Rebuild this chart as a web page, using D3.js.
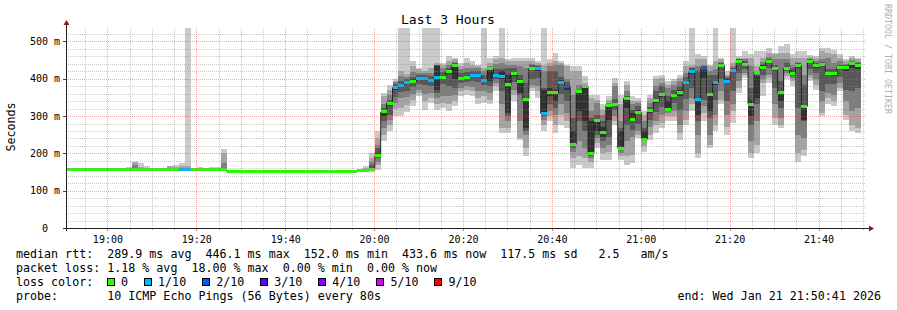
<!DOCTYPE html>
<html>
<head>
<meta charset="utf-8">
<script src="https://cdn.jsdelivr.net/npm/d3@7"></script>
<style>
  body { margin: 0; background: #fff; }
  svg text { white-space: pre; }
</style>
</head>
<body>
<div id="chart"></div>
<script>
// SmokePing style "Last 3 Hours" graph

const startTime = new Date(2026, 0, 21, 18, 50, 41);
const endTime = new Date(2026, 0, 21, 21, 50, 41);
const firstStep = new Date(2026, 0, 21, 18, 50, 49); // first 80 s sample boundary
const stepSec = 80;
const yMax = 536;

// median rtt per 80 s sample (ms)
const medians = [
  157,157,157,157,157,157,157,157,157,157,
  157,157,157,157,157,157,157,157,157,157,
  157,157,157,157,157,157,157,152,152,152,
  152,152,152,152,152,152,152,152,152,152,
  152,152,152,152,152,152,152,152,152,153,
  154,158,193,311,335,376,382,390,393,400,
  401,396,403,404,420,436,402,404,409,409,
  396,427,409,407,384,413,393,345,428,427,
  307,362,362,391,379,225,365,380,201,288,
  257,328,332,214,347,292,310,238,314,341,
  357,317,355,364,390,419,345,427,357,389,
  436,393,422,447,438,331,418,431,447,427,
  362,427,415,435,326,447,435,438,414,413,
  430,429,440,435
];

// lost pings out of 10 per sample
const lossCount = [
  0,0,0,0,0,0,0,0,0,0,
  0,0,0,0,0,0,0,0,0,1,
  1,0,0,0,0,0,0,0,0,0,
  0,0,0,0,0,0,0,0,0,0,
  0,0,0,0,0,0,0,0,0,0,
  0,0,0,0,0,1,1,1,0,1,
  1,1,1,0,0,0,0,0,1,1,
  1,0,1,1,0,0,0,0,0,1,
  1,0,0,1,2,0,0,0,0,0,
  0,0,0,0,0,0,0,0,0,0,
  0,0,0,0,1,1,1,2,0,1,
  0,1,1,0,0,0,0,0,0,0,
  0,0,0,0,0,0,0,0,0,0,
  0,0,0,0
];

// the 10 sorted ping times per sample (ms)
const pings = [
  [156,156,157,157,157,157,157,157,158,158],
  [156,156,157,157,157,157,157,157,158,158],
  [156,156,157,157,157,157,157,157,158,158],
  [156,156,157,157,157,157,157,157,158,158],
  [156,156,157,157,157,157,157,157,158,158],
  [156,156,157,157,157,157,157,157,158,158],
  [156,156,157,157,157,157,157,157,158,158],
  [156,156,157,157,157,157,157,157,158,158],
  [156,156,157,157,157,157,157,157,158,158],
  [156,156,157,157,157,157,157,157,158,158],
  [156,156,157,157,157,157,157,158,160,164],
  [156,156,157,157,157,158,162,170,176,177],
  [156,156,157,157,157,157,158,160,163,175],
  [156,156,157,157,157,157,158,159,161,167],
  [156,156,157,157,157,157,157,157,158,158],
  [156,156,157,157,157,157,157,157,158,158],
  [156,156,157,157,157,157,157,157,158,158],
  [156,157,157,157,157,157,158,160,166,167],
  [156,156,157,157,157,157,158,160,163,170],
  [156,156,157,157,157,157,158,160,165,173],
  [156,156,157,157,157,157,158,160,165,540],
  [156,156,157,157,157,157,157,157,158,158],
  [156,156,157,157,157,157,157,158,160,164],
  [156,156,157,157,157,157,157,157,158,158],
  [156,156,157,157,157,157,157,158,160,164],
  [156,156,157,157,157,157,157,158,160,164],
  [152,153,154,155,156,157,158,174,202,212],
  [151,151,152,152,152,152,152,152,153,153],
  [151,151,152,152,152,152,152,152,153,153],
  [151,151,152,152,152,152,152,152,153,153],
  [151,151,152,152,152,152,152,152,153,153],
  [151,151,152,152,152,152,152,152,153,153],
  [151,151,152,152,152,152,152,152,153,153],
  [151,151,152,152,152,152,152,152,153,153],
  [151,151,152,152,152,152,152,152,153,153],
  [151,151,152,152,152,152,152,152,153,153],
  [151,151,152,152,152,152,152,152,153,153],
  [151,151,152,152,152,152,152,152,153,153],
  [151,151,152,152,152,152,152,152,153,153],
  [151,151,152,152,152,152,152,152,153,153],
  [151,151,152,152,152,152,152,152,153,153],
  [151,151,152,152,152,152,152,152,153,153],
  [151,151,152,152,152,152,152,152,153,153],
  [151,151,152,152,152,152,152,152,153,153],
  [151,151,152,152,152,152,152,152,153,153],
  [151,151,152,152,152,152,152,152,153,153],
  [151,151,152,152,152,152,152,152,153,153],
  [151,151,152,152,152,152,152,152,153,153],
  [151,151,152,152,152,152,152,152,153,153],
  [152,152,153,153,153,153,153,153,154,154],
  [152,153,153,154,154,154,155,157,160,166],
  [150,152,154,155,157,160,168,178,187,200],
  [156,169,178,187,192,201,214,223,241,259],
  [232,250,268,286,299,314,322,331,353,362],
  [259,277,290,304,326,338,344,357,371,384],
  [300,320,335,350,370,380,385,390,395,400],
  [300,322,348,365,378,386,395,407,420,540],
  [310,330,350,368,385,395,400,405,413,540],
  [326,344,360,378,389,398,405,418,434,447],
  [353,362,370,385,396,404,410,416,425,429],
  [317,340,360,382,397,405,410,415,420,540],
  [335,348,362,380,392,400,408,416,429,540],
  [317,331,348,362,371,434,436,438,442,540],
  [322,335,355,385,400,408,418,429,438,443],
  [313,331,353,380,412,424,430,436,447,461],
  [326,340,357,375,400,440,443,446,452,456],
  [353,366,375,388,398,406,415,425,434,443],
  [357,371,380,392,400,408,418,430,443,456],
  [353,366,378,395,405,413,420,429,438,447],
  [331,348,366,390,405,413,420,429,434,438],
  [335,353,366,383,392,400,410,420,429,540],
  [331,344,362,380,393,429,430,434,443,456],
  [366,380,389,398,405,413,425,440,452,461],
  [254,268,331,366,398,420,425,443,456,540],
  [254,268,286,299,308,411,429,438,447,452],
  [340,357,371,390,408,418,428,438,447,456],
  [237,241,286,357,362,398,411,434,447,456],
  [192,214,250,259,268,348,389,429,447,456],
  [366,375,384,400,424,432,436,440,447,456],
  [348,366,380,402,420,430,434,438,443,447],
  [259,277,290,299,308,371,375,420,438,540],
  [286,299,313,331,353,375,420,434,443,452],
  [254,277,304,322,340,371,420,438,447,470],
  [277,304,331,360,386,396,405,438,443,447],
  [268,286,308,340,370,383,390,400,434,438],
  [160,187,205,214,223,259,295,357,420,434],
  [169,192,232,286,313,362,371,384,420,434],
  [160,187,214,259,286,375,380,384,389,407],
  [160,178,187,192,199,286,295,313,348,357],
  [214,227,241,250,259,290,304,335,344,357],
  [183,201,214,232,245,272,286,304,317,331],
  [183,205,223,245,290,326,331,335,344,353],
  [277,286,299,315,328,336,345,380,389,402],
  [183,192,201,210,214,259,268,286,331,357],
  [169,192,232,277,322,348,353,366,384,393],
  [174,196,245,263,286,308,317,331,340,353],
  [241,250,259,280,305,315,326,335,340,348],
  [205,219,232,236,238,259,268,286,304,313],
  [237,250,272,290,309,319,325,335,348,357],
  [254,277,286,310,336,346,366,380,398,407],
  [268,281,304,325,352,362,380,389,402,411],
  [286,299,308,313,317,340,353,375,384,393],
  [286,299,313,335,350,360,371,384,393,398],
  [237,254,277,317,353,371,380,393,402,411],
  [277,290,313,345,385,395,405,416,434,447],
  [313,331,348,375,414,424,428,432,438,540],
  [187,201,250,286,304,344,420,434,452,465],
  [286,308,326,344,402,429,434,438,452,461],
  [214,223,250,295,313,362,411,420,434,438],
  [259,277,304,344,384,394,411,425,447,540],
  [331,344,366,400,431,440,443,446,452,456],
  [250,272,304,340,388,398,402,407,411,420],
  [281,313,331,366,417,427,430,434,443,540],
  [362,375,393,415,442,450,452,454,456,461],
  [402,411,416,425,433,443,447,452,456,474],
  [187,201,232,277,300,344,375,434,456,465],
  [201,223,286,331,348,407,411,420,434,474],
  [353,389,398,410,426,436,440,445,456,474],
  [389,402,411,428,443,451,454,458,470,483],
  [277,295,331,375,422,432,438,452,465,470],
  [268,277,295,322,340,366,393,452,470,487],
  [398,407,416,420,423,432,443,452,470,492],
  [380,393,402,408,411,420,429,438,456,465],
  [178,201,250,322,430,440,443,446,456,474],
  [192,210,241,286,290,326,384,411,456,474],
  [393,402,411,425,442,450,452,454,458,463],
  [371,384,398,415,430,440,443,447,456,461],
  [299,308,340,366,433,443,446,452,474,483],
  [331,348,362,385,409,419,425,456,470,483],
  [326,340,357,385,408,418,425,443,465,478],
  [366,375,389,405,425,435,438,447,456,465],
  [290,304,340,371,420,432,436,440,447,452],
  [259,277,313,366,430,442,445,449,456,461],
  [254,268,322,375,425,438,441,445,452,456]
];

const yTicks = [0, 100, 200, 300, 400, 500];
const yTickLabels = ["0  ", "100 m", "200 m", "300 m", "400 m", "500 m"];

const lossLevels = [0, 1, 2, 3, 4, 5, 9];
const lossLabels = ["0", "1/10", "2/10", "3/10", "4/10", "5/10", "9/10"];
const lossColors = ["#26ff00", "#00b8ff", "#0059ff", "#5e00ff", "#7e00ff", "#dd00ff", "#ff0000"];

const smokeGrays = ["#cacaca", "#a4a4a4", "#7e7e7e", "#585858", "#323232"];

const titleText = "Last 3 Hours";
const yLabelText = "Seconds";
const tagText = "RRDTOOL / TOBI OETIKER";
const legendRows = [
  "median rtt:  289.9 ms avg  446.1 ms max  152.0 ms min  433.6 ms now  117.5 ms sd   2.5   am/s",
  "packet loss: 1.18 % avg  18.00 % max  0.00 % min  0.00 % now",
  "loss color:",
  "probe:       10 ICMP Echo Pings (56 Bytes) every 80s"
];
const endText = "end: Wed Jan 21 21:50:41 2026";

// ---- drawing ----
const W = 897, H = 310;
const FONT = '"DejaVu Sans Mono", monospace';
const charW = 7.02;

const svg = d3.select("#chart").append("svg")
    .attr("width", W)
    .attr("height", H)
    .style("font-family", FONT);

svg.append("rect").attr("width", W).attr("height", H).attr("fill", "#fff");

const x = d3.scaleTime().domain([startTime, endTime]).range([66, 866]);
const y = d3.scaleLinear().domain([0, yMax]).range([228, 28]);

const [x0, x1] = x.range();
const [yBottom, yTop] = y.range();

svg.append("defs").append("clipPath").attr("id", "plotclip")
    .append("rect")
    .attr("x", x0).attr("y", yTop)
    .attr("width", x1 - x0).attr("height", yBottom - yTop);

const steps = medians.map((m, i) => ({
    t0: d3.timeSecond.offset(firstStep, i * stepSec),
    t1: d3.timeSecond.offset(firstStep, (i + 1) * stepSec),
    m: m,
    loss: lossCount[i],
    p: pings[i]
}));

const plot = svg.append("g").attr("clip-path", "url(#plotclip)");

// smoke bands: ping i .. ping 11-i, darker towards the middle
smokeGrays.forEach((color, b) => {
    plot.append("g").selectAll("rect")
        .data(steps)
        .join("rect")
        .attr("x", d => x(d.t0))
        .attr("width", d => x(d.t1) - x(d.t0))
        .attr("y", d => y(d.p[9 - b]))
        .attr("height", d => Math.max(0, y(d.p[b]) - y(d.p[9 - b])))
        .attr("fill", color)
        .attr("shape-rendering", "crispEdges");
});

// median step line
const medianPts = steps.flatMap(d => [[d.t0, d.m], [d.t1, d.m]]);
plot.append("path")
    .attr("d", d3.line().x(d => x(d[0])).y(d => y(d[1]))(medianPts))
    .attr("fill", "none")
    .attr("stroke", "#202020")
    .attr("stroke-width", 1);

function lossColor(n) {
    let idx = 0;
    lossLevels.forEach((lv, i) => { if (n >= lv) idx = i; });
    return lossColors[idx];
}

// loss coloured median marks
plot.append("g").selectAll("rect")
    .data(steps)
    .join("rect")
    .attr("x", d => x(d.t0))
    .attr("width", d => x(d.t1) - x(d.t0))
    .attr("y", d => y(d.m) - 1.5)
    .attr("height", 3)
    .attr("fill", d => lossColor(d.loss))
    .attr("shape-rendering", "crispEdges");

// grid (drawn over the graph like rrdtool)
const grid = svg.append("g").attr("shape-rendering", "crispEdges");
const minorTimes = d3.timeMinute.every(5).range(startTime, endTime).filter(t => t.getMinutes() % 20 !== 0);
const majorTimes = d3.timeMinute.every(20).range(startTime, endTime);
const minorVals = d3.range(20, yMax, 20).filter(v => v % 100 !== 0);
const majorVals = yTicks.filter(v => v > 0);

const minorColor = "rgba(140,140,140,0.45)";
const majorColor = "rgba(222,80,80,0.5)";

grid.selectAll(".vmin").data(minorTimes).join("line")
    .attr("x1", d => Math.round(x(d)) + 0.5).attr("x2", d => Math.round(x(d)) + 0.5)
    .attr("y1", yTop).attr("y2", yBottom)
    .attr("stroke", minorColor).attr("stroke-dasharray", "1,1");
grid.selectAll(".hmin").data(minorVals).join("line")
    .attr("x1", x0).attr("x2", x1)
    .attr("y1", d => Math.round(y(d)) + 0.5).attr("y2", d => Math.round(y(d)) + 0.5)
    .attr("stroke", minorColor).attr("stroke-dasharray", "1,1");
grid.selectAll(".vmaj").data(majorTimes).join("line")
    .attr("x1", d => Math.round(x(d)) + 0.5).attr("x2", d => Math.round(x(d)) + 0.5)
    .attr("y1", yTop).attr("y2", yBottom)
    .attr("stroke", majorColor).attr("stroke-dasharray", "1,1");
grid.selectAll(".hmaj").data(majorVals).join("line")
    .attr("x1", x0).attr("x2", x1)
    .attr("y1", d => Math.round(y(d)) + 0.5).attr("y2", d => Math.round(y(d)) + 0.5)
    .attr("stroke", majorColor).attr("stroke-dasharray", "1,1");

// small ticks under the x axis
grid.selectAll(".tmin").data(minorTimes).join("line")
    .attr("x1", d => Math.round(x(d)) + 0.5).attr("x2", d => Math.round(x(d)) + 0.5)
    .attr("y1", yBottom).attr("y2", yBottom + 2)
    .attr("stroke", "rgba(140,140,140,0.7)");
grid.selectAll(".tmaj").data(majorTimes).join("line")
    .attr("x1", d => Math.round(x(d)) + 0.5).attr("x2", d => Math.round(x(d)) + 0.5)
    .attr("y1", yBottom).attr("y2", yBottom + 3)
    .attr("stroke", "rgba(222,80,80,0.8)");

// axes
const xAxis = d3.axisBottom(x)
    .tickValues(majorTimes)
    .tickFormat(d3.timeFormat("%H:%M"))
    .tickSize(0)
    .tickPadding(7);
svg.append("g")
    .attr("transform", `translate(0,${yBottom + 0.5})`)
    .call(xAxis)
    .call(g => g.select(".domain").remove())
    .attr("font-family", FONT)
    .attr("font-size", 10)
    .attr("color", "#000");

const yAxis = d3.axisLeft(y)
    .tickValues(yTicks)
    .tickFormat((d, i) => yTickLabels[i])
    .tickSize(4)
    .tickPadding(2.5);
svg.append("g")
    .attr("transform", `translate(${x0 + 0.5},0)`)
    .call(yAxis)
    .call(g => g.select(".domain").remove())
    .call(g => g.selectAll(".tick line").attr("stroke", "#444").attr("shape-rendering", "crispEdges"))
    .attr("font-family", FONT)
    .attr("font-size", 10)
    .attr("color", "#000");

// axis lines + arrows
svg.append("line")
    .attr("x1", x0 - 3).attr("x2", x1 + 3)
    .attr("y1", yBottom + 0.5).attr("y2", yBottom + 0.5)
    .attr("stroke", "#222").attr("shape-rendering", "crispEdges");
svg.append("line")
    .attr("x1", x0 + 0.5).attr("x2", x0 + 0.5)
    .attr("y1", yBottom + 3).attr("y2", yTop - 5)
    .attr("stroke", "#222").attr("shape-rendering", "crispEdges");
svg.append("path")
    .attr("d", `M${x1 + 3},${yBottom - 2.5}L${x1 + 8},${yBottom + 0.5}L${x1 + 3},${yBottom + 3.5}Z`)
    .attr("fill", "#8b1a1a");
svg.append("path")
    .attr("d", `M${x0 - 2.5},${yTop - 3}L${x0 + 0.5},${yTop - 8}L${x0 + 3.5},${yTop - 3}Z`)
    .attr("fill", "#8b1a1a");

// title and labels
svg.append("text")
    .attr("x", 448).attr("y", 24)
    .attr("text-anchor", "middle")
    .attr("font-size", 13)
    .text(titleText);

svg.append("text")
    .attr("transform", `translate(15.3,127) rotate(-90)`)
    .attr("text-anchor", "middle")
    .attr("font-size", 11.66)
    .text(yLabelText);

svg.append("text")
    .attr("transform", `translate(884.5,4) rotate(90)`)
    .attr("font-size", 8.3)
    .attr("fill", "#b0b0b0")
    .text(tagText);

// legend
const legendX = 16;
const rowBase = [258, 272, 286, 300];
legendRows.forEach((row, i) => {
    svg.append("text")
        .attr("x", legendX).attr("y", rowBase[i])
        .attr("font-size", 11.66)
        .text(row);
});

let itemX = legendX + 13 * charW - 0.7;
lossLabels.forEach((label, i) => {
    svg.append("rect")
        .attr("x", itemX + 0.5).attr("y", rowBase[2] - 7.5)
        .attr("width", 7).attr("height", 7)
        .attr("fill", lossColors[i])
        .attr("stroke", "#000")
        .attr("shape-rendering", "crispEdges");
    const lx = itemX + 14.5;
    svg.append("text")
        .attr("x", lx).attr("y", rowBase[2])
        .attr("font-size", 11.66)
        .text(label);
    itemX = lx + label.length * charW + 15.5;
});

svg.append("text")
    .attr("x", 881).attr("y", rowBase[3])
    .attr("text-anchor", "end")
    .attr("font-size", 11.66)
    .text(endText);
</script>
</body>
</html>
